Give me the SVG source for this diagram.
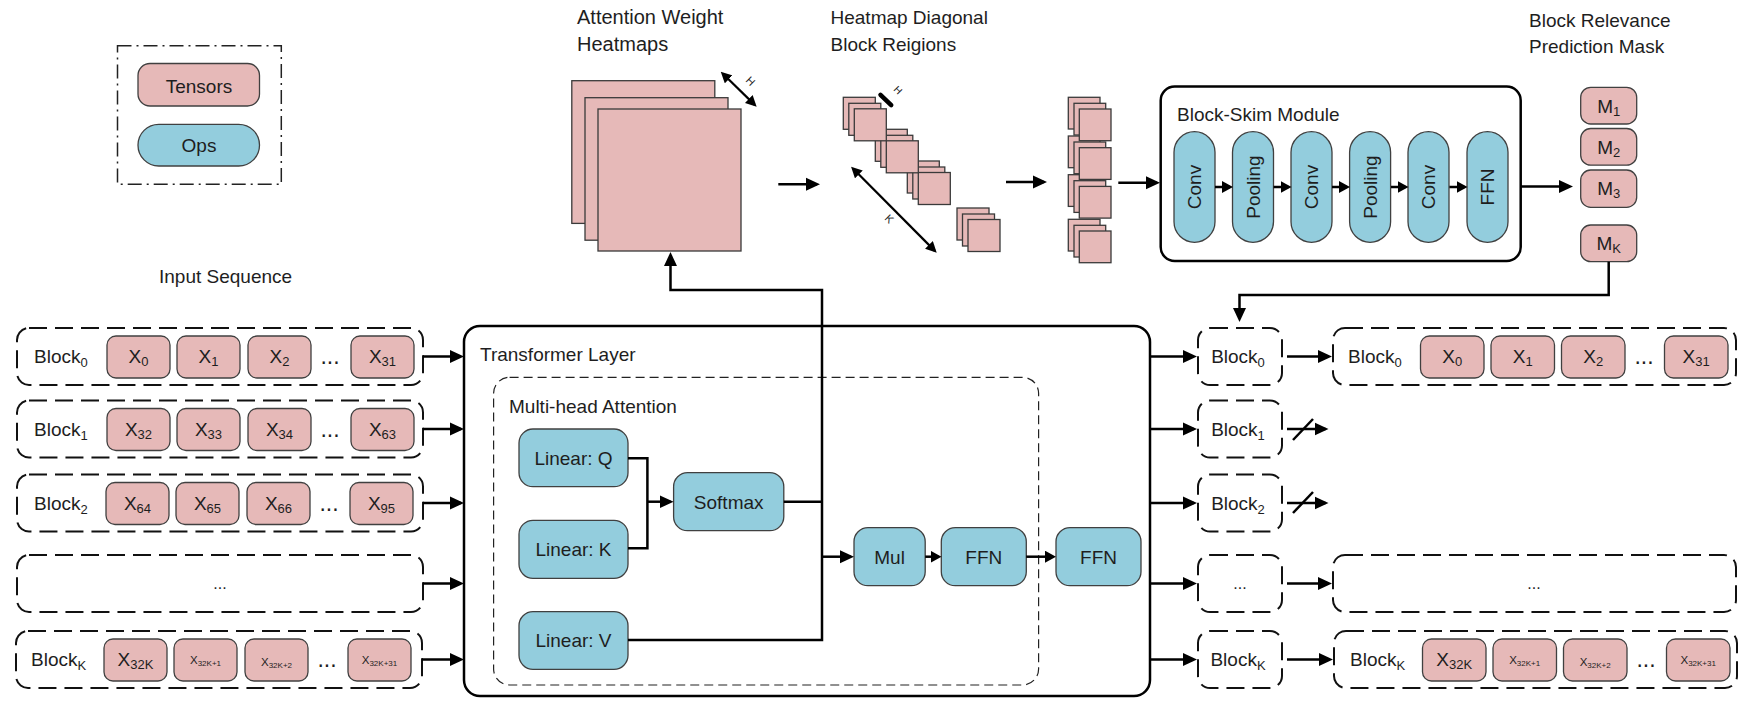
<svg xmlns="http://www.w3.org/2000/svg" width="1752" height="712" viewBox="0 0 1752 712">
<style>
text{font-family:"Liberation Sans",Arial,sans-serif;font-size:19px;fill:#1e1e1e}
.t{fill:#E6B9B8;stroke:#404040;stroke-width:1.3}
.o{fill:#93CDDD;stroke:#404040;stroke-width:1.3}
.sq{fill:#E6B9B8;stroke:#3a3a3a;stroke-width:1.3}
.dash{fill:none;stroke:#111;stroke-width:2;stroke-dasharray:18 8}
.thin{fill:none;stroke:#222;stroke-width:1.2;stroke-dasharray:9 5}
.frame{fill:#fff;stroke:#000;stroke-width:2.5}
.ln{fill:none;stroke:#000;stroke-width:2.5}
.a{marker-end:url(#ah)}
.am{marker-end:url(#ahm)}
.m{text-anchor:middle}
.sub{font-size:13px}
.dots{font-size:23px}
.xs{font-size:11.5px}
.xss{font-size:8px}
.dim{font-size:11px}
</style>
<defs>
<marker id="ah" markerUnits="userSpaceOnUse" markerWidth="14" markerHeight="14" viewBox="0 0 14 14" refX="11" refY="7" orient="auto"><path d="M0,0.5 L14,7 L0,13.5 z" fill="#000"/></marker>
<marker id="ahm" markerUnits="userSpaceOnUse" markerWidth="11" markerHeight="12" viewBox="0 0 11 12" refX="8" refY="6" orient="auto"><path d="M0,0 L11,6 L0,12 z" fill="#000"/></marker>
<marker id="ahs" markerUnits="userSpaceOnUse" markerWidth="11" markerHeight="11" viewBox="0 0 11 11" refX="8" refY="5.5" orient="auto-start-reverse"><path d="M0,0 L11,5.5 L0,11 z" fill="#000"/></marker>
</defs>
<rect width="1752" height="712" fill="#fff"/>

<g id="legend">
<rect x="117.5" y="45.7" width="163.8" height="138.6" fill="none" stroke="#222" stroke-width="1.5" stroke-dasharray="14 5 2 5"/>
<rect class="t" x="138" y="63.5" width="121.5" height="42.5" rx="12"/>
<text class="m" x="199" y="92.5">Tensors</text>
<rect class="o" x="138" y="124.3" width="121.5" height="41.7" rx="20.8"/>
<text class="m" x="199" y="151.5">Ops</text>
</g>

<g id="labels">
<text x="159" y="283">Input Sequence</text>
<text x="577" y="24" style="font-size:20px">Attention Weight</text>
<text x="577" y="51" style="font-size:20px">Heatmaps</text>
<text x="830.5" y="24">Heatmap Diagonal</text>
<text x="830.5" y="51">Block Reigions</text>
<text x="1529" y="27">Block Relevance</text>
<text x="1529" y="53">Prediction Mask</text>
</g>

<g id="heatmaps">
<rect class="sq" x="571.8" y="80.7" width="143" height="142.7"/>
<rect class="sq" x="585" y="97.7" width="143" height="142.5"/>
<rect class="sq" x="598" y="109" width="143" height="142"/>
<line x1="722.9" y1="73.8" x2="754.5" y2="104.6" stroke="#000" stroke-width="2.2" marker-start="url(#ahs)" marker-end="url(#ahs)"/>
<text class="dim" x="745" y="81" transform="rotate(45 745 81)">H</text>
</g>

<g id="diagonal-blocks">
<rect class="sq" x="957" y="208" width="32" height="32"/>
<rect class="sq" x="962.5" y="214" width="32" height="32"/>
<rect class="sq" x="968" y="219.5" width="32" height="32"/>
<rect class="sq" x="907.3" y="161" width="32" height="32"/>
<rect class="sq" x="912.8" y="167" width="32" height="32"/>
<rect class="sq" x="918.3" y="172.5" width="32" height="32"/>
<rect class="sq" x="875.3" y="129.3" width="32" height="32"/>
<rect class="sq" x="880.8" y="135.3" width="32" height="32"/>
<rect class="sq" x="886.3" y="140.8" width="32" height="32"/>
<rect class="sq" x="843.3" y="97.3" width="32" height="32"/>
<rect class="sq" x="848.8" y="103.3" width="32" height="32"/>
<rect class="sq" x="854.3" y="108.8" width="32" height="32"/>
<line x1="880.5" y1="94.8" x2="891.2" y2="105.2" stroke="#000" stroke-width="4.5" stroke-linecap="round"/>
<text x="893" y="90" style="font-size:10px" transform="rotate(45 893 90)">H</text>
<line x1="853.2" y1="168.8" x2="934.6" y2="250.6" stroke="#000" stroke-width="2.2" marker-start="url(#ahs)" marker-end="url(#ahs)"/>
<text class="dim" x="884" y="219" transform="rotate(45 884 219)">K</text>
</g>

<g id="stacked-blocks">
<rect class="sq" x="1068.3" y="219.3" width="31.7" height="31.7"/>
<rect class="sq" x="1074" y="225.3" width="31.7" height="31.7"/>
<rect class="sq" x="1079.3" y="231" width="31.7" height="31.7"/>
<rect class="sq" x="1068.3" y="174.7" width="31.7" height="31.7"/>
<rect class="sq" x="1074" y="180.7" width="31.7" height="31.7"/>
<rect class="sq" x="1079.3" y="186.4" width="31.7" height="31.7"/>
<rect class="sq" x="1068.3" y="136" width="31.7" height="31.7"/>
<rect class="sq" x="1074" y="142" width="31.7" height="31.7"/>
<rect class="sq" x="1079.3" y="147.7" width="31.7" height="31.7"/>
<rect class="sq" x="1068.3" y="97.3" width="31.7" height="31.7"/>
<rect class="sq" x="1074" y="103.3" width="31.7" height="31.7"/>
<rect class="sq" x="1079.3" y="109" width="31.7" height="31.7"/>
</g>

<g id="block-skim">
<rect class="frame" x="1160.7" y="86.5" width="360" height="174.5" rx="14"/>
<text x="1177" y="121">Block-Skim Module</text>
<rect class="o" x="1174" y="131.7" width="41" height="110.6" rx="20.5"/>
<text class="m" x="1201" y="187" transform="rotate(-90 1201 187)">Conv</text>
<rect class="o" x="1232.5" y="131.7" width="41" height="110.6" rx="20.5"/>
<text class="m" x="1259.5" y="187" transform="rotate(-90 1259.5 187)">Pooling</text>
<rect class="o" x="1291" y="131.7" width="41" height="110.6" rx="20.5"/>
<text class="m" x="1318" y="187" transform="rotate(-90 1318 187)">Conv</text>
<rect class="o" x="1349.6" y="131.7" width="41" height="110.6" rx="20.5"/>
<text class="m" x="1376.6" y="187" transform="rotate(-90 1376.6 187)">Pooling</text>
<rect class="o" x="1408" y="131.7" width="41" height="110.6" rx="20.5"/>
<text class="m" x="1435" y="187" transform="rotate(-90 1435 187)">Conv</text>
<rect class="o" x="1467" y="131.7" width="41" height="110.6" rx="20.5"/>
<text class="m" x="1494" y="187" transform="rotate(-90 1494 187)">FFN</text>
</g>

<g id="masks">
<rect class="t" x="1580.7" y="87.3" width="56" height="36.7" rx="10"/>
<text class="m" x="1608.7" y="112.5">M<tspan class="sub" dy="3">1</tspan></text>
<rect class="t" x="1580.7" y="128.5" width="56" height="36.7" rx="10"/>
<text class="m" x="1608.7" y="153.5">M<tspan class="sub" dy="3">2</tspan></text>
<rect class="t" x="1580.7" y="170" width="56" height="37.3" rx="10"/>
<text class="m" x="1608.7" y="195">M<tspan class="sub" dy="3">3</tspan></text>
<rect class="t" x="1580.7" y="225" width="56" height="36.7" rx="10"/>
<text class="m" x="1608.7" y="250">M<tspan class="sub" dy="3">K</tspan></text>
</g>

<g id="input-row-0">
<rect class="dash" x="17" y="328" width="406" height="57" rx="12"/>
<text x="34" y="363">Block<tspan class="sub" dy="4">0</tspan></text>
<rect class="t" x="107" y="336" width="63" height="42" rx="9"/><text class="m" x="138.5" y="363">X<tspan class="sub" dy="3">0</tspan></text>
<rect class="t" x="177" y="336" width="63" height="42" rx="9"/><text class="m" x="208.5" y="363">X<tspan class="sub" dy="3">1</tspan></text>
<rect class="t" x="248" y="336" width="63" height="42" rx="9"/><text class="m" x="279.5" y="363">X<tspan class="sub" dy="3">2</tspan></text>
<text class="m dots" x="330" y="364">...</text>
<rect class="t" x="351" y="336" width="63" height="42" rx="9"/><text class="m" x="382.5" y="363">X<tspan class="sub" dy="3">31</tspan></text>
</g>
<g id="input-row-1">
<rect class="dash" x="17" y="400.5" width="406" height="57" rx="12"/>
<text x="34" y="435.5">Block<tspan class="sub" dy="4">1</tspan></text>
<rect class="t" x="107" y="408.5" width="63" height="42" rx="9"/><text class="m" x="138.5" y="435.5">X<tspan class="sub" dy="3">32</tspan></text>
<rect class="t" x="177" y="408.5" width="63" height="42" rx="9"/><text class="m" x="208.5" y="435.5">X<tspan class="sub" dy="3">33</tspan></text>
<rect class="t" x="248" y="408.5" width="63" height="42" rx="9"/><text class="m" x="279.5" y="435.5">X<tspan class="sub" dy="3">34</tspan></text>
<text class="m dots" x="330" y="436.5">...</text>
<rect class="t" x="351" y="408.5" width="63" height="42" rx="9"/><text class="m" x="382.5" y="435.5">X<tspan class="sub" dy="3">63</tspan></text>
</g>
<g id="input-row-2">
<rect class="dash" x="17" y="474.5" width="406" height="57" rx="12"/>
<text x="34" y="509.5">Block<tspan class="sub" dy="4">2</tspan></text>
<rect class="t" x="106" y="482.5" width="63" height="42" rx="9"/><text class="m" x="137.5" y="509.5">X<tspan class="sub" dy="3">64</tspan></text>
<rect class="t" x="176" y="482.5" width="63" height="42" rx="9"/><text class="m" x="207.5" y="509.5">X<tspan class="sub" dy="3">65</tspan></text>
<rect class="t" x="247" y="482.5" width="63" height="42" rx="9"/><text class="m" x="278.5" y="509.5">X<tspan class="sub" dy="3">66</tspan></text>
<text class="m dots" x="329" y="510.5">...</text>
<rect class="t" x="350" y="482.5" width="63" height="42" rx="9"/><text class="m" x="381.5" y="509.5">X<tspan class="sub" dy="3">95</tspan></text>
</g>
<g id="input-row-3">
<rect class="dash" x="17" y="555" width="406" height="57" rx="12"/>
<text class="m" x="220" y="589" style="font-size:16px">...</text>
</g>
<g id="input-row-k">
<rect class="dash" x="16" y="631" width="406" height="57" rx="12"/>
<text x="31" y="666">Block<tspan class="sub" dy="4">K</tspan></text>
<rect class="t" x="104" y="639" width="63" height="42" rx="9"/><text class="m" x="135.5" y="666">X<tspan class="sub" dy="3">32K</tspan></text>
<rect class="t" x="174" y="639" width="63" height="42" rx="9"/><text class="m xs" x="205.5" y="664">X<tspan class="xss" dy="2">32K+1</tspan></text>
<rect class="t" x="245" y="639" width="63" height="42" rx="9"/><text class="m xs" x="276.5" y="666">X<tspan class="xss" dy="2">32K+2</tspan></text>
<text class="m dots" x="327" y="667">...</text>
<rect class="t" x="348" y="639" width="63" height="42" rx="9"/><text class="m xs" x="379.5" y="664">X<tspan class="xss" dy="2">32K+31</tspan></text>
</g>

<g id="transformer-layer">
<rect class="frame" x="464" y="326" width="686" height="370" rx="16"/>
<text x="480" y="361">Transformer Layer</text>
</g>
<g id="multi-head-attention">
<rect class="thin" x="493.6" y="377.3" width="545" height="307.7" rx="16"/>
<text x="509" y="413">Multi-head Attention</text>
</g>
<g id="linear-q"><rect class="o" x="519" y="429" width="109" height="57.7" rx="14"/><text class="m" x="573.5" y="464.5">Linear: Q</text></g>
<g id="linear-k"><rect class="o" x="519" y="520.3" width="109" height="58" rx="14"/><text class="m" x="573.5" y="556">Linear: K</text></g>
<g id="linear-v"><rect class="o" x="519" y="611.7" width="109" height="57.6" rx="14"/><text class="m" x="573.5" y="647">Linear: V</text></g>
<g id="softmax"><rect class="o" x="673.6" y="472.7" width="110.2" height="58" rx="14"/><text class="m" x="728.7" y="508.5">Softmax</text></g>
<g id="mul"><rect class="o" x="854" y="527.7" width="71.2" height="58" rx="14"/><text class="m" x="889.6" y="563.5">Mul</text></g>
<g id="ffn-inner"><rect class="o" x="941.3" y="527.7" width="85" height="58" rx="14"/><text class="m" x="983.8" y="563.5">FFN</text></g>
<g id="ffn-outer"><rect class="o" x="1056" y="527.7" width="85" height="58" rx="14"/><text class="m" x="1098.5" y="563.5">FFN</text></g>

<g id="out-block-0"><rect class="dash" x="1198" y="328" width="84" height="57" rx="12"/><text class="m" x="1238" y="363">Block<tspan class="sub" dy="4">0</tspan></text></g>
<g id="out-block-1"><rect class="dash" x="1198" y="400.5" width="84" height="57" rx="12"/><text class="m" x="1238" y="435.5">Block<tspan class="sub" dy="4">1</tspan></text></g>
<g id="out-block-2"><rect class="dash" x="1198" y="474.5" width="84" height="57" rx="12"/><text class="m" x="1238" y="509.5">Block<tspan class="sub" dy="4">2</tspan></text></g>
<g id="out-block-3"><rect class="dash" x="1198" y="555" width="84" height="57" rx="12"/><text class="m" x="1240" y="589" style="font-size:16px">...</text></g>
<g id="out-block-k"><rect class="dash" x="1198" y="631" width="84" height="57" rx="12"/><text class="m" x="1238" y="666">Block<tspan class="sub" dy="4">K</tspan></text></g>

<g id="output-row-0">
<rect class="dash" x="1333" y="328" width="403" height="57" rx="12"/>
<text x="1348" y="363">Block<tspan class="sub" dy="4">0</tspan></text>
<rect class="t" x="1420.5" y="336" width="63.5" height="42" rx="9"/><text class="m" x="1452.2" y="363">X<tspan class="sub" dy="3">0</tspan></text>
<rect class="t" x="1491" y="336" width="63.5" height="42" rx="9"/><text class="m" x="1522.7" y="363">X<tspan class="sub" dy="3">1</tspan></text>
<rect class="t" x="1561.5" y="336" width="63.5" height="42" rx="9"/><text class="m" x="1593.2" y="363">X<tspan class="sub" dy="3">2</tspan></text>
<text class="m dots" x="1644" y="364">...</text>
<rect class="t" x="1664.5" y="336" width="63.5" height="42" rx="9"/><text class="m" x="1696.2" y="363">X<tspan class="sub" dy="3">31</tspan></text>
</g>
<g id="output-row-3">
<rect class="dash" x="1333" y="555" width="403" height="57" rx="12"/>
<text class="m" x="1534" y="589" style="font-size:16px">...</text>
</g>
<g id="output-row-k">
<rect class="dash" x="1334" y="631" width="403" height="57" rx="12"/>
<text x="1350" y="666">Block<tspan class="sub" dy="4">K</tspan></text>
<rect class="t" x="1422.5" y="639" width="63.5" height="42" rx="9"/><text class="m" x="1454.2" y="666">X<tspan class="sub" dy="3">32K</tspan></text>
<rect class="t" x="1493" y="639" width="63.5" height="42" rx="9"/><text class="m xs" x="1524.7" y="664">X<tspan class="xss" dy="2">32K+1</tspan></text>
<rect class="t" x="1563.5" y="639" width="63.5" height="42" rx="9"/><text class="m xs" x="1595.2" y="666">X<tspan class="xss" dy="2">32K+2</tspan></text>
<text class="m dots" x="1646" y="667">...</text>
<rect class="t" x="1666.5" y="639" width="63.5" height="42" rx="9"/><text class="m xs" x="1698.2" y="664">X<tspan class="xss" dy="2">32K+31</tspan></text>
</g>

<g id="connectors">
<path class="ln a" d="M778.3,184.3 H817"/>
<path class="ln a" d="M1006,182 H1044"/>
<path class="ln a" d="M1118.3,182.7 H1157"/>
<path class="ln a" d="M1521,186.5 H1570"/>
<path class="ln am" d="M1215,187 H1230"/>
<path class="ln am" d="M1273.6,187 H1288.5"/>
<path class="ln am" d="M1332,187 H1347"/>
<path class="ln am" d="M1391,187 H1405.5"/>
<path class="ln am" d="M1449.4,187 H1464.5"/>
<path class="ln a" d="M1608.7,261.7 V295 H1239.5 V319"/>
<path class="ln a" d="M423,356.5 H461"/>
<path class="ln a" d="M423,429 H461"/>
<path class="ln a" d="M423,503 H461"/>
<path class="ln a" d="M423,583.5 H461"/>
<path class="ln a" d="M422,659.5 H461"/>
<path class="ln" d="M628,458.3 H647.4 V548.3 H628"/>
<path class="ln a" d="M647.4,501.7 H670.6"/>
<path class="ln" d="M783.8,501.7 H822"/>
<path class="ln a" d="M628,640 H822 V290 H670.5 V255"/>
<path class="ln a" d="M822,556.7 H851"/>
<path class="ln am" d="M925.2,556.7 H938.5"/>
<path class="ln am" d="M1026.2,556.7 H1053"/>
<path class="ln a" d="M1150,356.5 H1194"/>
<path class="ln a" d="M1150,429 H1194"/>
<path class="ln a" d="M1150,503 H1194"/>
<path class="ln a" d="M1150,583.5 H1194"/>
<path class="ln a" d="M1150,659.5 H1194"/>
<path class="ln a" d="M1287,356.5 H1329"/>
<path class="ln a" d="M1287,429 H1325.5"/>
<path class="ln a" d="M1287,503 H1325.5"/>
<path class="ln a" d="M1287,583.5 H1329"/>
<path class="ln a" d="M1287,659.5 H1330"/>
<path class="ln" d="M1293,440 L1313,419"/>
<path class="ln" d="M1293,513 L1313,492"/>
</g>
</svg>
